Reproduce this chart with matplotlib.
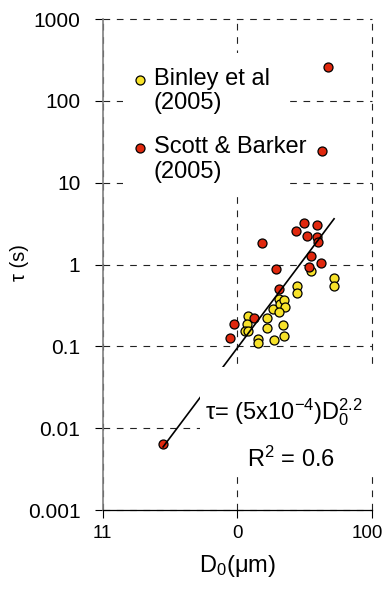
import numpy as np
import matplotlib
matplotlib.use('Agg')
import matplotlib.pyplot as plt
from matplotlib.patches import Rectangle
from matplotlib.transforms import ScaledTranslation

plt.rcParams['font.family'] = ['Liberation Sans', 'DejaVu Sans']
plt.rcParams['mathtext.fontset'] = 'custom'
plt.rcParams['mathtext.rm'] = 'Liberation Sans'
plt.rcParams['mathtext.it'] = 'Liberation Sans:italic'

# Binley et al (2005)
binley_d = [12.1, 11.8, 11.4, 12.0, 14.3, 14.3, 16.7, 16.7, 18.9, 22.0, 22.1,
            18.6, 20.6, 20.9, 22.3, 22.5, 20.6, 28.0, 28.0, 35.2, 52.5, 52.5]
binley_tau = [0.233, 0.186, 0.155, 0.156, 0.124, 0.109, 0.220, 0.168, 0.118, 0.180, 0.132,
              0.287, 0.376, 0.331, 0.365, 0.300, 0.260, 0.554, 0.451, 0.826, 0.688, 0.554]

# Scott & Barker (2005)
scott_d = [47.3, 42.7, 2.81, 15.2, 19.4, 20.6, 9.5, 8.89, 13.4, 27.5, 31.4,
           39.5, 33.0, 39.0, 39.9, 35.3, 34.0, 42.1]
scott_tau = [261, 24.5, 0.0064, 1.83, 0.886, 0.505, 0.188, 0.127, 0.222, 2.60, 3.22,
             3.07, 2.24, 2.16, 1.87, 1.26, 0.93, 1.04]

# fitted power law, tau = 5e-4 * D0^2.2 (end points)
fit_d = [2.81, 52.5]
fit_tau = [0.0059, 3.62]

yticks = [0.001, 0.01, 0.1, 1, 10, 100, 1000]
ytick_labels = ['0.001', '0.01', '0.1', '1', '10', '100', '1000']
xticks = [1, 10, 100]
xtick_labels = ['11', '0', '100']

series_labels = ['Binley et al\n(2005)', 'Scott & Barker\n(2005)']

RED = '#e0280e'
YELLOW = '#f7e22a'

fig = plt.figure(figsize=(3.85, 5.89), dpi=100)
ax = fig.add_axes([0.2668, 0.1341, 0.6987, 0.8336])

ax.set_xscale('log')
ax.set_yscale('log')
ax.set_xlim(1, 100)
ax.set_ylim(0.001, 1000)

ax.set_xticks(xticks)
ax.set_xticklabels(xtick_labels)
ax.set_yticks(yticks)
ax.set_yticklabels(ytick_labels)
ax.minorticks_off()
ax.tick_params(axis='y', direction='out', length=6, width=0.8, pad=10, labelsize=15)
ax.tick_params(axis='x', direction='out', length=6, width=0.8, pad=5, labelsize=13.5)

# last x label sits a bit to the left of its tick
lbl = ax.get_xticklabels()[-1]
lbl.set_transform(lbl.get_transform() + ScaledTranslation(-3.5 / 72, 0, fig.dpi_scale_trans))

ax.set_axisbelow(True)
ax.grid(True, color='#222222', linestyle=(0, (6, 6)), linewidth=0.8)
for gl in ax.get_xgridlines() + ax.get_ygridlines():
    gl.set_clip_on(False)

ax.spines['top'].set_visible(False)
ax.spines['right'].set_visible(False)
ax.spines['left'].set_color('#808080')
ax.spines['left'].set_linewidth(1.2)
ax.spines['bottom'].set_linewidth(0.9)

# white blocks behind legend and equation (they hide the grid)
ax.add_patch(Rectangle((0.0755, 0.637), 0.6135, 0.294, transform=ax.transAxes,
                       facecolor='white', edgecolor='none', zorder=1))
ax.add_patch(Rectangle((0.362, 0.0713), 0.645, 0.2197, transform=ax.transAxes,
                       facecolor='white', edgecolor='none', zorder=5, clip_on=False))

ax.scatter(binley_d, binley_tau, s=42, c=YELLOW, edgecolors='black',
           linewidths=0.9, zorder=3)
ax.scatter(scott_d, scott_tau, s=42, c=RED, edgecolors='black',
           linewidths=0.9, zorder=3)
ax.plot(fit_d, fit_tau, color='black', linewidth=1.2, zorder=4)

# legend: marker lines up with the first line of each label
for lab, col, ym, yt in zip(series_labels, [YELLOW, RED], [0.876, 0.737], [0.901, 0.761]):
    ax.scatter([0.139], [ym], s=42, c=col, edgecolors='black', linewidths=0.9,
               transform=ax.transAxes, clip_on=False, zorder=6)
    ax.text(0.19, yt, lab, transform=ax.transAxes, ha='left', va='top',
            fontsize=17, linespacing=1.15, zorder=6)

ax.text(0.675, 0.1996, r'τ= (5x10$^{\rm {-}4}$)D$_{\rm 0}^{\rm 2.2}$', transform=ax.transAxes,
        ha='center', va='center', fontsize=17, zorder=6)
ax.text(0.70, 0.104, r'R$^{\rm 2}$ = 0.6', transform=ax.transAxes,
        ha='center', va='center', fontsize=17, zorder=6)

ax.set_xlabel(r'D$_{\rm 0}$(μm)', fontsize=17, labelpad=8)
ax.set_ylabel('τ (s)', fontsize=14.5)
ax.yaxis.set_label_coords(-0.274, (510 - 263) / 491)

fig.savefig('out.png', dpi=100)
